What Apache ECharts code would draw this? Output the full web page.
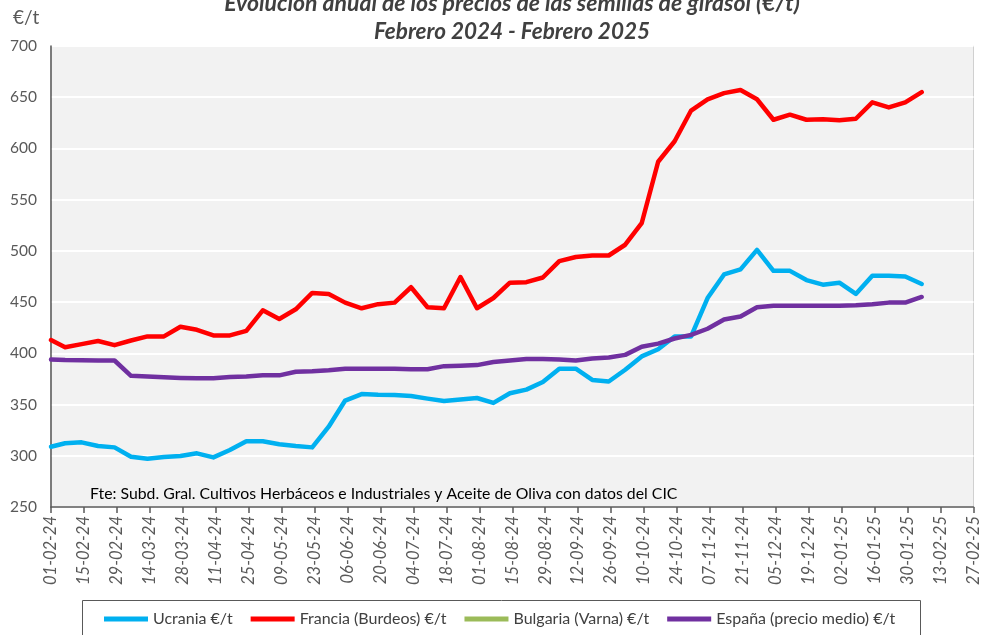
<!DOCTYPE html>
<html>
<head>
<meta charset="utf-8">
<script src="https://cdn.jsdelivr.net/npm/echarts@6/dist/echarts.min.js"></script>
<style>html,body{margin:0;padding:0;background:#fff}#c{width:982px;height:635px}</style>
</head>
<body>
<div id="c"></div>
<script>
const dates = ['2024-02-01',
 '2024-02-07','2024-02-14','2024-02-21','2024-02-28',
 '2024-03-06','2024-03-13','2024-03-20','2024-03-27',
 '2024-04-03','2024-04-10','2024-04-17','2024-04-24',
 '2024-05-01','2024-05-08','2024-05-15','2024-05-22','2024-05-29',
 '2024-06-05','2024-06-12','2024-06-19','2024-06-26',
 '2024-07-03','2024-07-10','2024-07-17','2024-07-24','2024-07-31',
 '2024-08-07','2024-08-14','2024-08-21','2024-08-28',
 '2024-09-04','2024-09-11','2024-09-18','2024-09-25',
 '2024-10-02','2024-10-09','2024-10-16','2024-10-23','2024-10-30',
 '2024-11-06','2024-11-13','2024-11-20','2024-11-27',
 '2024-12-04','2024-12-11','2024-12-18','2024-12-25',
 '2025-01-01','2025-01-08','2025-01-15','2025-01-22','2025-01-29',
 '2025-02-05'];

const ucrania = [308.8,312.2,313.1,309.5,308.2,299,297,298.7,299.7,302.4,298.4,305.6,314.1,314.1,311.2,309.5,308.2,328.4,353.9,360.2,359.5,
 359.3,358.4,355.8,353.5,355,356.4,351.6,
 361,364.6,372,385,385,374,372.5,384,397,404,416.5,416.5,454,477,482,501,480.5,480.5,471.5,467,469,458,475.7,475.7,475,467.7];

const francia = [413,406,409,412,408,412.5,416.5,416.5,426,423,417.5,417.5,422,442,433.5,
 443,459,458,449.5,444,448,449.5,464.5,445,444,474.5,444,454,
 469,469.5,474,490,494,495.5,495.5,506,527,
 587,607,637,648,654,657,648,
 628,633,628,628.5,627.5,629,645,640,645,655];

const bulgaria = [];

const espana = [394,393.5,393.3,393,393,378,377.5,376.6,376,375.6,375.6,377,377.5,378.5,378.5,
 382,382.5,383.5,385,385,385,385,384.5,384.5,387.5,388,388.5,391.5,
 393,394.5,394.5,394,393,395,396,398.5,406.5,409.5,414.5,418,424,433,
 436,445,446.5,446.5,446.5,446.5,446.5,447,448,449.5,449.5,455];

const axisStart = '2024-02-01';
const axisEnd = '2025-02-27';
const yTicks = {min: 250, max: 700, step: 50};
const xStepDays = 14;

const DAY = 86400000;
const base = Date.parse(axisStart);
const dayOf = d => Math.round((Date.parse(d) - base) / DAY);
const pair = arr => arr.map((v, i) => [dayOf(dates[i]), v]);
const pad = n => (n < 10 ? '0' : '') + n;
const fmt = v => { const d = new Date(base + v * DAY); return pad(d.getUTCDate()) + '-' + pad(d.getUTCMonth() + 1) + '-' + pad(d.getUTCFullYear() % 100); };

const FONT = 'Lato, "Open Sans", sans-serif';
const chart = echarts.init(document.getElementById('c'), null, {renderer: 'canvas'});

function line(name, color, data) {
  return {name, type: 'line', data: pair(data), showSymbol: false, symbol: 'none',
    lineStyle: {color, width: 4.5, cap: 'round', join: 'round'}, itemStyle: {color}, animation: false};
}

chart.setOption({
  animation: false,
  textStyle: {fontFamily: FONT},
  grid: {left: 51, right: 5, top: 46, bottom: 128, show: true, backgroundColor: '#F2F2F2', borderColor: '#D0D0D0', borderWidth: 1},
  xAxis: {
    type: 'value', min: 0, max: dayOf(axisEnd), interval: xStepDays,
    axisLine: {show: true, lineStyle: {color: '#595959', width: 1.5}},
    axisTick: {show: true, length: 6, lineStyle: {color: '#595959', width: 1.5}},
    splitLine: {show: false},
    axisLabel: {rotate: 90, fontSize: 16.5, fontStyle: 'italic', color: '#595959', margin: 9, formatter: fmt, fontFamily: FONT, showMinLabel: true, showMaxLabel: true}
  },
  yAxis: {
    type: 'value', min: yTicks.min, max: yTicks.max, interval: yTicks.step,
    axisLine: {show: true, lineStyle: {color: '#595959', width: 1.5}},
    axisTick: {show: false},
    splitLine: {show: true, lineStyle: {color: '#FFFFFF', width: 2}},
    axisLabel: {fontSize: 15.5, color: '#595959', margin: 14, fontFamily: FONT}
  },
  legend: {
    left: 104, top: 611, padding: 0, icon: 'rect', itemWidth: 44, itemHeight: 5, itemGap: 18,
    textStyle: {fontSize: 16, color: '#404040', fontFamily: FONT},
    data: ['Ucrania €/t', 'Francia (Burdeos) €/t', 'Bulgaria (Varna) €/t', 'España (precio medio) €/t']
  },
  graphic: [
    {type: 'rect', left: 80, top: 598, shape: {width: 838, height: 45}, style: {fill: 'none', stroke: '#595959', lineWidth: 1}, silent: true},
    {type: 'text', x: 512, y: 4, style: {text: 'Evolución anual de los precios de las semillas de girasol (€/t)', font: 'italic bold 23px ' + FONT, fill: '#404040', textAlign: 'center', textVerticalAlign: 'middle'}},
    {type: 'text', x: 512, y: 32, style: {text: 'Febrero 2024 - Febrero 2025', font: 'italic bold 22.5px ' + FONT, fill: '#404040', textAlign: 'center', textVerticalAlign: 'middle'}},
    {type: 'text', x: 13, y: 18, style: {text: '€/t', font: '19px ' + FONT, fill: '#595959', textAlign: 'left', textVerticalAlign: 'middle'}},
    {type: 'text', x: 90, y: 494, style: {text: 'Fte: Subd. Gral. Cultivos Herbáceos e Industriales y Aceite de Oliva con datos del CIC', font: '15.8px ' + FONT, fill: '#000000', textAlign: 'left', textVerticalAlign: 'middle'}, z: 100}
  ],
  series: [
    line('Ucrania €/t', '#00B0F0', ucrania),
    line('Francia (Burdeos) €/t', '#FF0000', francia),
    line('Bulgaria (Varna) €/t', '#9BBB59', bulgaria),
    line('España (precio medio) €/t', '#7030A0', espana)
  ]
});
</script>
</body>
</html>
